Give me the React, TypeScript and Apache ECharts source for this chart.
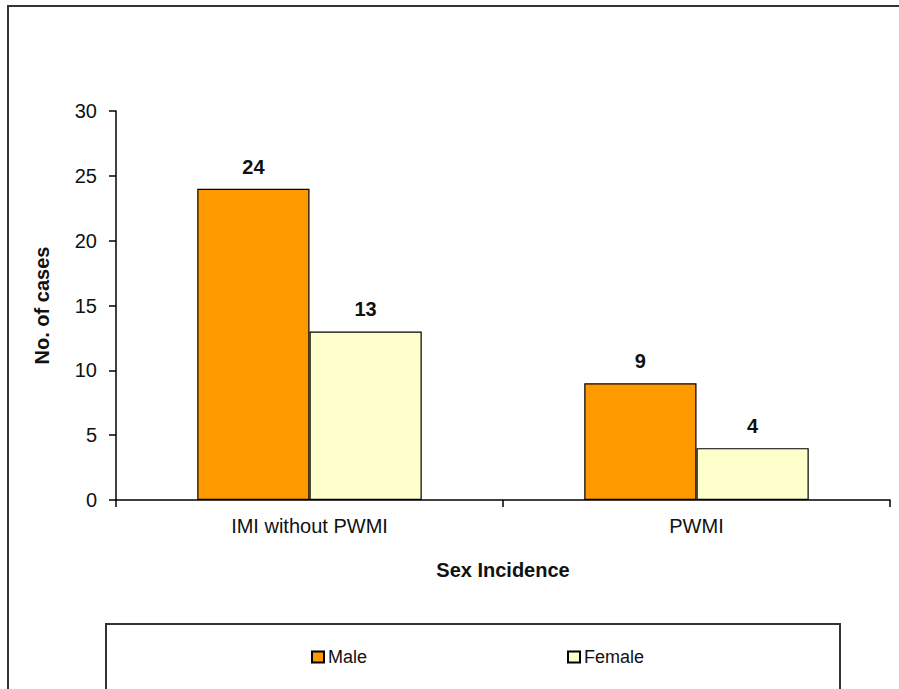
import React, { useEffect, useRef } from "react";
import * as echarts from "echarts";

const categories = ["IMI without PWMI", "PWMI"];
const maleValues = [24, 9];
const femaleValues = [13, 4];
const seriesNames = ["Male", "Female"];
const yTicks = { min: 0, max: 30, interval: 5 };

const FONT = "Liberation Sans, Arial, sans-serif";
const TEXT = "#111";

export default function App() {
  const ref = useRef<HTMLDivElement>(null);
  useEffect(() => {
    document.body.style.margin = "0";
    const chart = echarts.init(ref.current!, null, { renderer: "svg" });
    chart.setOption({
      animation: false,
      backgroundColor: "#fff",
      textStyle: { fontFamily: FONT, color: TEXT },
      grid: { left: 116, right: 9, top: 111, bottom: 189 },
      graphic: [
        {
          type: "rect",
          shape: { x: 8, y: 6, width: 1000, height: 1000 },
          style: { fill: "none", stroke: "#333", lineWidth: 2 },
          silent: true,
          z: 0,
        },
        {
          type: "rect",
          shape: { x: 106, y: 624, width: 734, height: 100 },
          style: { fill: "none", stroke: "#333", lineWidth: 2 },
          silent: true,
        },
      ],
      legend: {
        left: 306,
        top: 643,
        itemWidth: 12,
        itemHeight: 11,
        itemGap: 200,
        icon: "rect",
        data: seriesNames,
        textStyle: { fontFamily: FONT, fontSize: 18, color: TEXT, padding: [0, 0, 0, -1] },
      },
      xAxis: {
        type: "category",
        data: categories,
        name: "Sex Incidence",
        nameLocation: "middle",
        nameGap: 60,
        nameTextStyle: { fontFamily: FONT, fontSize: 20, fontWeight: "bold", color: TEXT },
        axisLine: { lineStyle: { color: "#000", width: 1.5 } },
        axisTick: { show: true, length: 7, lineStyle: { color: "#000", width: 1.5 } },
        axisLabel: { fontFamily: FONT, fontSize: 20, color: TEXT, margin: 16 },
      },
      yAxis: {
        type: "value",
        min: yTicks.min,
        max: yTicks.max,
        interval: yTicks.interval,
        name: "No. of cases",
        nameLocation: "middle",
        nameGap: 64,
        nameTextStyle: { fontFamily: FONT, fontSize: 20, fontWeight: "bold", color: TEXT },
        splitLine: { show: false },
        axisLine: { show: true, lineStyle: { color: "#000", width: 1.5 } },
        axisTick: { show: true, length: 7, lineStyle: { color: "#000", width: 1.5 } },
        axisLabel: { fontFamily: FONT, fontSize: 20, color: TEXT, margin: 19 },
      },
      series: [
        {
          name: seriesNames[0],
          type: "bar",
          data: maleValues,
          barGap: "0%",
          barCategoryGap: "42%",
          itemStyle: { color: "#FF9900", borderColor: "#000", borderWidth: 1.2 },
          label: {
            show: true,
            position: "top",
            distance: 12,
            fontFamily: FONT,
            fontSize: 20,
            fontWeight: "bold",
            color: TEXT,
          },
        },
        {
          name: seriesNames[1],
          type: "bar",
          data: femaleValues,
          barGap: "0%",
          barCategoryGap: "42%",
          itemStyle: { color: "#FFFFCC", borderColor: "#000", borderWidth: 1.2 },
          label: {
            show: true,
            position: "top",
            distance: 12,
            fontFamily: FONT,
            fontSize: 20,
            fontWeight: "bold",
            color: TEXT,
          },
        },
      ],
    });
    return () => chart.dispose();
  }, []);
  return (
    <div
      ref={ref}
      style={{ position: "absolute", left: 0, top: 0, width: 899, height: 689 }}
    />
  );
}
